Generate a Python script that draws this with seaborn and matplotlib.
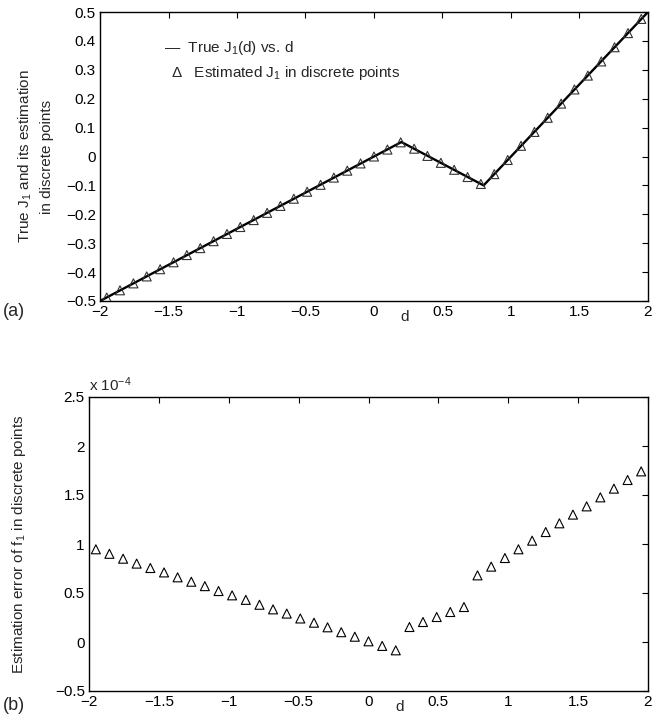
import matplotlib
matplotlib.use("Agg")
import matplotlib.pyplot as plt
import seaborn as sns
import pandas as pd
from matplotlib.ticker import FuncFormatter

# ---------------- data ----------------
# discrete evaluation points d
d_points = [-1.951, -1.854, -1.756, -1.659, -1.561, -1.463, -1.366, -1.268, -1.171, -1.073,
            -0.976, -0.878, -0.780, -0.683, -0.585, -0.488, -0.390, -0.293, -0.195, -0.098,
            0.000, 0.098, 0.195, 0.293, 0.390, 0.488, 0.585, 0.683, 0.780, 0.878,
            0.976, 1.073, 1.171, 1.268, 1.366, 1.463, 1.561, 1.659, 1.756, 1.854, 1.951]

# estimated J1 at discrete points (panel a)
j1_estimated = [-0.488, -0.463, -0.439, -0.415, -0.390, -0.366, -0.341, -0.317, -0.293, -0.268,
                -0.244, -0.220, -0.195, -0.171, -0.146, -0.122, -0.098, -0.073, -0.049, -0.024,
                0.000, 0.024, 0.049, 0.027, 0.002, -0.022, -0.046, -0.071, -0.095, -0.061,
                -0.012, 0.037, 0.085, 0.134, 0.183, 0.232, 0.280, 0.329, 0.378, 0.427, 0.476]

# true J1(d) breakpoints (panel a line)
true_d = [-2.0, 0.2, 0.8, 2.0]
true_j1 = [-0.5, 0.05, -0.1, 0.5]

# estimation error in units of 1e-4 (panel b)
error_x1e4 = [0.946, 0.900, 0.850, 0.800, 0.755, 0.710, 0.660, 0.615, 0.570, 0.520,
              0.476, 0.430, 0.380, 0.333, 0.290, 0.240, 0.197, 0.150, 0.100, 0.054,
              0.007, -0.040, -0.085, 0.153, 0.204, 0.255, 0.306, 0.357, 0.680, 0.769,
              0.857, 0.946, 1.034, 1.122, 1.211, 1.300, 1.384, 1.476, 1.565, 1.653, 1.741]

xticks = [-2, -1.5, -1, -0.5, 0, 0.5, 1, 1.5, 2]
yticks_a = [-0.5, -0.4, -0.3, -0.2, -0.1, 0, 0.1, 0.2, 0.3, 0.4, 0.5]
yticks_b = [-0.5, 0, 0.5, 1, 1.5, 2, 2.5]

# ---------------- style ----------------
sns.set_theme(style="white")
plt.rcParams['font.family'] = ['Liberation Sans', 'DejaVu Sans']
plt.rcParams['mathtext.fontset'] = 'custom'
plt.rcParams['mathtext.rm'] = 'Liberation Sans'
plt.rcParams['mathtext.it'] = 'Liberation Sans'
FS = 11

df_est = pd.DataFrame({"d": d_points, "J1": j1_estimated})
df_true = pd.DataFrame({"d": true_d, "J1": true_j1})
df_err = pd.DataFrame({"d": d_points, "err": error_x1e4})

fig = plt.figure(figsize=(6.69, 7.17), dpi=100)
W, H = 669.0, 717.0


def box(l, t, r, b):
    return [l / W, 1 - b / H, (r - l) / W, (b - t) / H]


ax1 = fig.add_axes(box(100, 12, 648, 301))
ax2 = fig.add_axes(box(89, 397, 648, 691))


def fmt(v, pos):
    s = "%g" % round(v, 6)
    return s.replace("-", "\u2212")


for ax in (ax1, ax2):
    ax.set_xlim(-2, 2)
    ax.set_xticks(xticks)
    ax.xaxis.set_major_formatter(FuncFormatter(fmt))
    ax.yaxis.set_major_formatter(FuncFormatter(fmt))
    ax.tick_params(direction="in", length=4, width=0.8, top=True, right=True,
                   labelsize=FS, colors="black", pad=3)
    for sp in ax.spines.values():
        sp.set_color("black")
        sp.set_linewidth(1.0)

# panel (a)
sns.lineplot(data=df_true, x="d", y="J1", ax=ax1, color="black", linewidth=1.7)
sns.scatterplot(data=df_est, x="d", y="J1", ax=ax1, marker="^", s=42,
                facecolor="none", edgecolor="#333333", linewidth=0.8, zorder=3)
ax1.set_ylim(-0.5, 0.5)
ax1.set_yticks(yticks_a)
ax1.set_xlabel("")
ax1.set_ylabel("True J$_1$ and its estimation\nin discrete points", fontsize=FS,
               linespacing=1.6, va="center", ha="center")
ax1.yaxis.set_label_coords(-0.118, 0.5)

ax1.text(0.117, 0.875, "\u2014  True J$_1$(d) vs. d", transform=ax1.transAxes,
         fontsize=FS, va="center", ha="left")
ax1.text(0.130, 0.79, "\u0394   Estimated J$_1$ in discrete points", transform=ax1.transAxes,
         fontsize=FS, va="center", ha="left")
ax1.text(0.22, -0.03, "d", transform=ax1.get_xaxis_transform(), fontsize=FS,
         va="top", ha="center")
fig.text(3 / W, 1 - 312 / H, "(a)", fontsize=FS + 2, va="center", ha="left")

# panel (b)
sns.scatterplot(data=df_err, x="d", y="err", ax=ax2, marker="^", s=42,
                facecolor="none", edgecolor="black", linewidth=0.8, zorder=3)
ax2.set_ylim(-0.5, 2.5)
ax2.set_yticks(yticks_b)
ax2.set_xlabel("")
ax2.set_ylabel("Estimation error of f$_1$ in discrete points", fontsize=FS,
               va="center", ha="center")
ax2.yaxis.set_label_coords(-0.125, 0.5)
ax2.text(0.0, 1.01, "x 10$^{-4}$", transform=ax2.transAxes, fontsize=FS,
         va="bottom", ha="left")
ax2.text(0.22, -0.03, "d", transform=ax2.get_xaxis_transform(), fontsize=FS,
         va="top", ha="center")
fig.text(3 / W, 1 - 705 / H, "(b)", fontsize=FS + 2, va="center", ha="left")

fig.savefig("out.png", dpi=100)
